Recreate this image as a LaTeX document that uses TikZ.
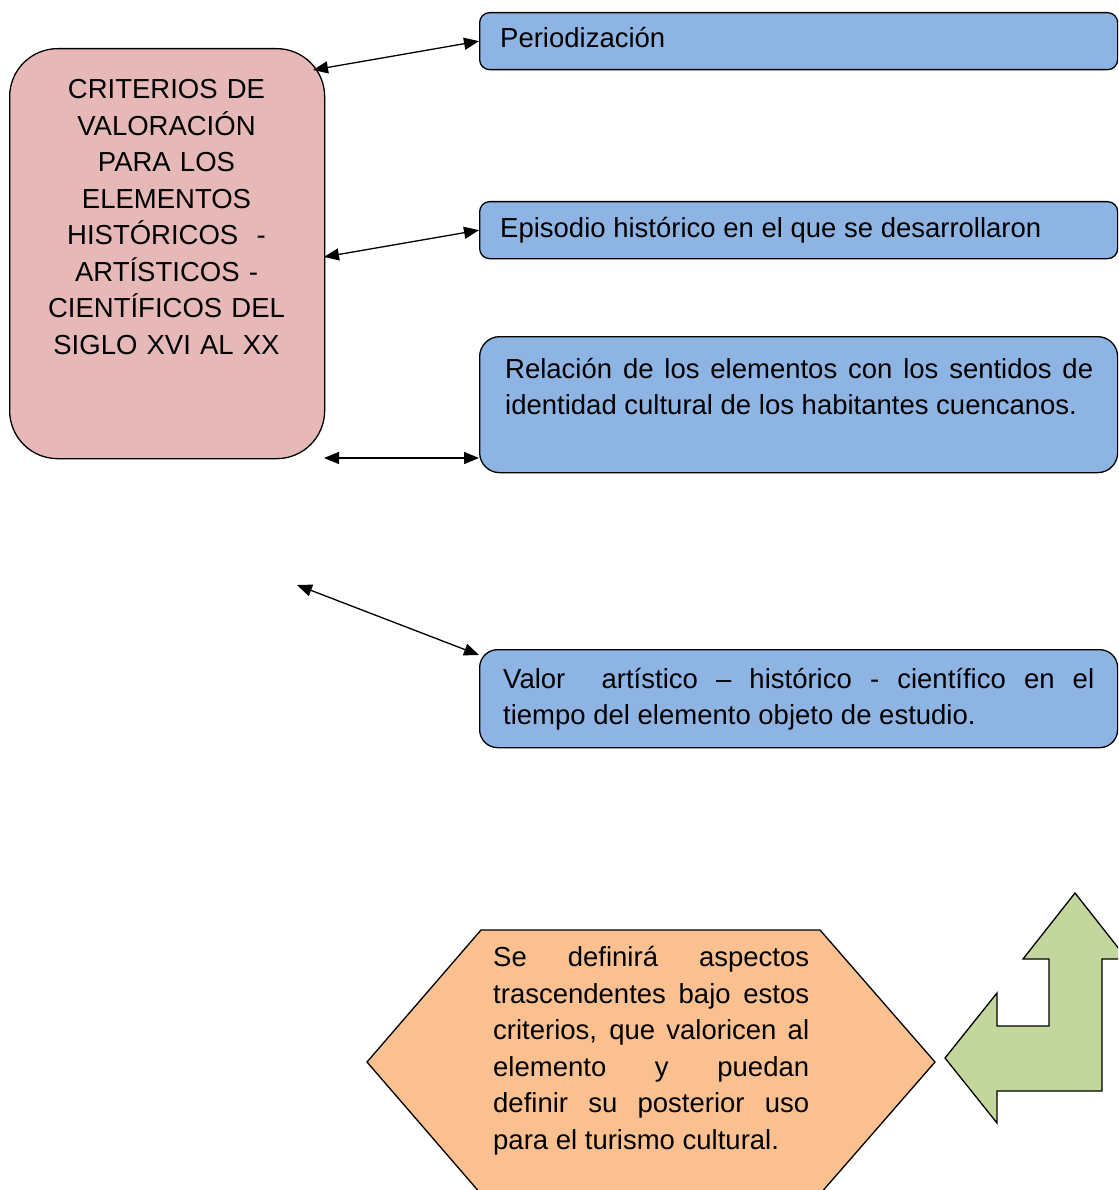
\documentclass[tikz,border=0pt]{standalone}
\usepackage{fontspec}
\setmainfont{Liberation Sans}
\usetikzlibrary{arrows.meta,calc}
\definecolor{pinkf}{HTML}{E6B9B8}
\definecolor{bluef}{HTML}{8EB4E3}
\definecolor{orangef}{HTML}{FAC090}
\definecolor{greenf}{HTML}{C3D69B}
\begin{document}
\begin{tikzpicture}[x=1pt,y=-1pt,
  box/.style={draw=black, line width=1.3pt, inner sep=0pt, anchor=north west},
  bluebox/.style={box, fill=bluef, minimum width=638pt},
  txt/.style={inner sep=0pt, font=\fontsize{27.5}{36.5}\selectfont, anchor=base west},
  dbl/.style={{Triangle[length=15pt,width=12pt]}-{Triangle[length=15pt,width=12pt]}, line width=1.3pt},
  shapeline/.style={draw=black, line width=1.3pt, line join=miter}]
\useasboundingbox (0,0) rectangle (1118,1190);
\clip (0,0) rectangle (1118,1190);

% boxes
\node[box, fill=pinkf, rounded corners=48pt, minimum width=315pt, minimum height=410pt] (crit) at (9,48) {};
\node[bluebox, rounded corners=10pt, minimum height=57pt] (peri) at (479,12) {};
\node[bluebox, rounded corners=10pt, minimum height=57pt] (epi) at (479,201) {};
\node[bluebox, rounded corners=20pt, minimum height=136pt] (rel) at (479,336) {};
\node[bluebox, rounded corners=18pt, minimum height=98pt] (val) at (479,649) {};

% texts
\node[txt, anchor=base, align=center, text width=315pt] (critT) at (166.5,99)
  {CRITERIOS DE\\VALORACIÓN\\PARA LOS\\ELEMENTOS\\HISTÓRICOS\ \ -\\ARTÍSTICOS -\\CIENTÍFICOS DEL\\SIGLO XVI AL XX};
\node[txt] (periT) at (500,48) {Periodización};
\node[txt] (epiT) at (500,237.5) {Episodio histórico en el que se desarrollaron};
\node[txt, text width=588pt, align=justify] (relT) at (505,378)
  {Relación de los elementos con los sentidos de\linebreak identidad cultural de los habitantes cuencanos.};
\node[txt, text width=591pt, align=justify] (valT) at (503,688)
  {Valor\ \ artístico – histórico - científico en el\linebreak tiempo del elemento objeto de estudio.};

% hexagon
\draw[shapeline, fill=orangef] (481,930) -- (820,930) -- (935,1062) -- (820,1194) -- (481,1194) -- (367,1062) -- cycle;
\node[txt, text width=316pt, align=justify] (hexT) at (493,966.5)
  {Se definirá aspectos\linebreak trascendentes bajo estos\linebreak criterios, que valoricen al\linebreak elemento y puedan\linebreak definir su posterior uso\linebreak para el turismo cultural.};

% green bent arrow
\draw[shapeline, fill=greenf] (1075,893) -- (1127,959) -- (1102,959) -- (1102,1091) -- (997,1091) -- (997,1123)
  -- (945,1058) -- (997,993) -- (997,1026) -- (1049,1026) -- (1049,959) -- (1023,959) -- cycle;

% connectors
\coordinate (a1) at (313,70);
\coordinate (a2) at (324,257);
\coordinate (a3l) at (324,458);
\coordinate (a3r) at (479,458);
\coordinate (a4l) at (297,585);
\coordinate (a4r) at (479,655);
\draw[dbl] (a1) -- (peri.west);
\draw[dbl] (a2) -- (epi.west);
\draw[dbl] (a3l) -- (a3r);
\draw[dbl] (a4l) -- (a4r);
\end{tikzpicture}
\end{document}
